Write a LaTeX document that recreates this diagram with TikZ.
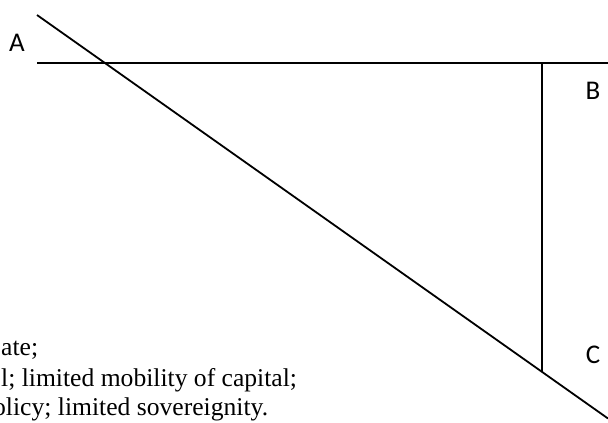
\documentclass[tikz,border=0pt]{standalone}
\usepackage{fontspec}
\setmainfont{Liberation Serif}
\newfontfamily\labelfont{Carlito}
\begin{document}
\begin{tikzpicture}[x=1pt,y=-1pt,
  ln/.style={line width=1.8pt},
  lbl/.style={font=\labelfont\fontsize{27}{32}\selectfont, inner sep=0pt},
  txt/.style={font=\fontsize{25.6}{30}\selectfont, inner sep=0pt, anchor=base west}]
\useasboundingbox (0,0) rectangle (608,423);
\coordinate (d1) at (37,15);
\coordinate (d2) at (608,418.5);
\coordinate (h1) at (37,63);
\coordinate (h2) at (608,63);
\coordinate (v1) at (542,63);
\coordinate (v2) at (542,372);
\draw[ln] (d1) -- (d2);
\draw[ln] (h1) -- (h2);
\draw[ln] (v1) -- (v2);
\node[lbl] (A) at (17,43) {A};
\node[lbl] (B) at (593,91) {B};
\node[lbl] (C) at (593,355) {C};
\node[txt] (t1) at (1,355) {ate;};
\node[txt] (t2) at (1,386) {l; limited mobility of capital;};
\node[txt] (t3) at (-7,415) {olicy; limited sovereignity.};
\end{tikzpicture}
\end{document}
